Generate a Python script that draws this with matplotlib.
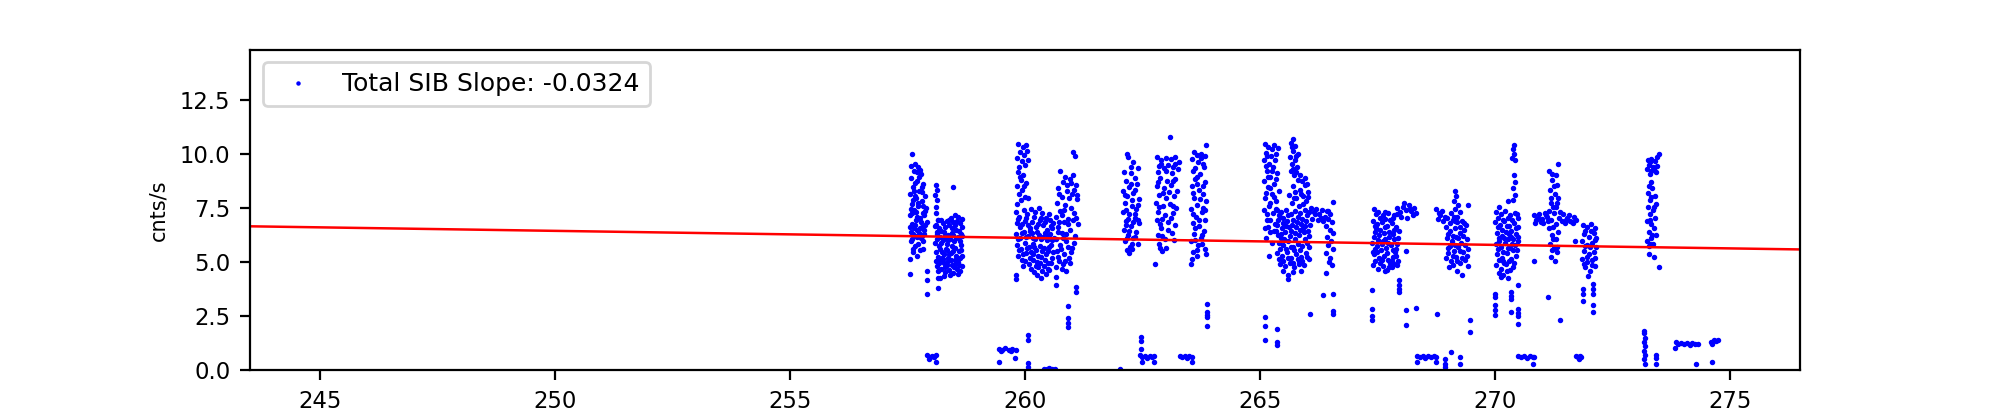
import numpy as np
import matplotlib
matplotlib.use("Agg")
import matplotlib.pyplot as plt

# ---- data: (time [day], rate [cnts/s]) ----
seg_257_258 = [
    (257.60, 9.98), (257.66, 9.55), (257.72, 9.40), (257.63, 9.20), (257.78, 9.05), (257.58, 8.90),
    (257.70, 8.75), (257.84, 8.60), (257.62, 8.45), (257.75, 8.30), (257.56, 8.15), (257.88, 8.05),
    (257.68, 7.95), (257.80, 7.80), (257.59, 7.70), (257.72, 7.60), (257.90, 7.50), (257.64, 7.40),
    (257.83, 7.28), (257.55, 7.15), (257.76, 7.05), (257.68, 6.95), (257.92, 6.85), (257.60, 6.75),
    (257.80, 6.62), (257.70, 6.50), (257.57, 6.40), (257.86, 6.30), (257.65, 6.20), (257.78, 6.10),
    (257.58, 5.95), (257.73, 5.85), (257.82, 5.60), (257.62, 5.45), (257.70, 5.30), (257.55, 5.15),
    (257.56, 4.45), (257.91, 4.60), (257.91, 4.15), (257.91, 3.50),
    (257.66, 8.05), (257.74, 8.95), (257.61, 7.85), (257.85, 7.15), (257.69, 7.30), (257.79, 6.85),
    (257.63, 6.55), (257.88, 6.70), (257.74, 6.35), (257.59, 6.05), (257.84, 5.95), (257.67, 5.75),
    (257.77, 9.25), (257.65, 8.65), (257.81, 8.25), (257.57, 7.45), (257.87, 7.35), (257.71, 7.10),
    (257.61, 6.30), (257.76, 5.55),
    (257.58, 9.45), (257.70, 9.15), (257.64, 8.30), (257.80, 8.45), (257.73, 7.75), (257.60, 7.25),
    (257.83, 7.60), (257.66, 6.70), (257.76, 6.55), (257.86, 6.50), (257.70, 6.15), (257.62, 5.60),
    (257.80, 6.20), (257.56, 6.60),
    (258.10, 8.55), (258.12, 8.35), (258.09, 8.10), (258.13, 7.85), (258.11, 7.55), (258.10, 7.25),
    (258.14, 6.95), (258.09, 6.65), (258.12, 6.40), (258.47, 8.45),
    (258.10, 6.70), (258.18, 6.55), (258.26, 6.80), (258.34, 6.90), (258.42, 7.05), (258.50, 7.15),
    (258.58, 7.10), (258.65, 7.00), (258.12, 6.30), (258.20, 6.15), (258.28, 6.40), (258.36, 6.25),
    (258.44, 6.55), (258.52, 6.70), (258.60, 6.45), (258.67, 6.60), (258.09, 5.90), (258.17, 5.75),
    (258.25, 6.00), (258.33, 5.85), (258.41, 6.05), (258.49, 5.95), (258.57, 6.15), (258.64, 5.80),
    (258.11, 5.45), (258.19, 5.60), (258.27, 5.35), (258.35, 5.55), (258.43, 5.40), (258.51, 5.65),
    (258.59, 5.50), (258.66, 5.30), (258.10, 5.05), (258.18, 4.95), (258.26, 5.15), (258.34, 4.85),
    (258.42, 5.10), (258.50, 4.90), (258.58, 5.00), (258.65, 4.80), (258.14, 4.60), (258.22, 4.70),
    (258.30, 4.55), (258.38, 4.65), (258.46, 4.50), (258.55, 4.70), (258.62, 4.60), (258.15, 4.25),
    (258.20, 4.25), (258.15, 3.80), (258.27, 4.35), (258.22, 6.95), (258.39, 6.70), (258.55, 6.90),
    (258.31, 6.10), (258.47, 6.25), (258.63, 6.30), (258.24, 5.20), (258.45, 5.75), (258.61, 5.20),
    (258.37, 5.20), (258.53, 5.30), (258.29, 4.75), (258.48, 4.75),
    (258.14, 6.92), (258.22, 6.42), (258.30, 6.62), (258.38, 6.95), (258.46, 6.85), (258.54, 6.50),
    (258.62, 6.80), (258.13, 6.05), (258.21, 5.88), (258.29, 6.22), (258.37, 6.02), (258.45, 6.35),
    (258.53, 6.10), (258.61, 5.95), (258.66, 6.20), (258.15, 5.25), (258.23, 5.45), (258.31, 5.60),
    (258.39, 5.35), (258.47, 5.50), (258.55, 5.15), (258.63, 5.55), (258.12, 4.80), (258.20, 5.05),
    (258.28, 4.95), (258.36, 5.05), (258.44, 4.85), (258.52, 5.10), (258.60, 4.85), (258.40, 4.40),
    (258.58, 4.45),
]

seg_260_261 = [
    (259.86, 10.45), (259.95, 10.30), (260.02, 10.40), (259.90, 10.10), (259.98, 9.95), (260.05, 10.15),
    (259.84, 9.80), (259.93, 9.65), (260.01, 9.50), (259.88, 9.40), (260.06, 9.70), (259.85, 9.15),
    (259.96, 9.00), (259.91, 8.80), (260.03, 8.65), (259.83, 8.50), (259.94, 8.35), (259.87, 8.15),
    (260.00, 8.00), (259.92, 7.85), (259.84, 7.70), (260.07, 7.95), (259.97, 8.50), (259.89, 8.95),
    (259.80, 7.30), (259.88, 7.10), (259.97, 7.40), (260.05, 7.20), (260.13, 7.45), (260.21, 7.30),
    (260.29, 7.50), (260.37, 7.25), (260.45, 7.05), (260.53, 6.95), (260.60, 6.80),
    (259.82, 6.80), (259.90, 6.60), (259.99, 6.90), (260.07, 6.70), (260.15, 6.85), (260.23, 6.60),
    (260.31, 6.95), (260.39, 6.70), (260.47, 6.50), (260.55, 6.65),
    (259.81, 6.30), (259.89, 6.10), (259.98, 6.40), (260.06, 6.20), (260.14, 6.35), (260.22, 6.05),
    (260.30, 6.25), (260.38, 6.15), (260.46, 6.00), (260.54, 6.30), (260.61, 6.10),
    (259.83, 5.80), (259.91, 5.60), (260.00, 5.90), (260.08, 5.70), (260.16, 5.85), (260.24, 5.55),
    (260.32, 5.75), (260.40, 5.65), (260.48, 5.50), (260.56, 5.80),
    (259.85, 5.30), (259.94, 5.10), (260.02, 5.40), (260.10, 5.20), (260.18, 5.35), (260.26, 5.00),
    (260.34, 5.25), (260.42, 5.10), (260.50, 4.95), (260.58, 5.20),
    (259.95, 4.80), (260.12, 4.70), (260.20, 4.55), (260.28, 4.75), (260.36, 4.60), (260.44, 4.45),
    (260.52, 4.65), (260.35, 4.25), (259.80, 4.40), (259.80, 4.20),
    (259.86, 7.00), (259.94, 6.75), (260.03, 7.05), (260.11, 6.55), (260.19, 7.10), (260.27, 6.75),
    (260.35, 7.05), (260.43, 6.85), (260.51, 7.20), (260.58, 6.55), (259.85, 6.05), (259.93, 6.35),
    (260.02, 6.15), (260.10, 6.45), (260.18, 6.10), (260.26, 6.40), (260.34, 6.05), (260.42, 6.35),
    (260.50, 6.20), (260.58, 6.00), (259.87, 5.55), (259.96, 5.35), (260.04, 5.65), (260.12, 5.45),
    (260.20, 5.70), (260.28, 5.30), (260.36, 5.50), (260.44, 5.35), (260.52, 5.70), (260.60, 5.45),
    (260.00, 5.05), (260.08, 4.90), (260.16, 5.10), (260.24, 4.80), (260.32, 4.95), (260.40, 4.80),
    (260.48, 4.70), (260.56, 4.95), (260.25, 4.40),
    (261.03, 10.10), (261.06, 9.90), (260.75, 9.20), (261.02, 9.00), (260.95, 8.85), (260.80, 8.70),
    (261.08, 8.55), (260.70, 8.40), (260.90, 8.30), (261.00, 8.15), (260.78, 8.00), (261.10, 7.90),
    (260.68, 7.75), (260.86, 7.65), (260.98, 7.50), (260.74, 7.35), (261.05, 7.25), (260.66, 7.10),
    (260.92, 7.00), (260.82, 6.85), (261.12, 6.75), (260.70, 6.60), (260.96, 6.50), (260.78, 6.35),
    (261.06, 6.20), (260.67, 6.05), (260.88, 5.95), (260.75, 5.80), (261.00, 5.65), (260.69, 5.50),
    (260.84, 5.35), (260.93, 5.20), (260.72, 5.05), (260.80, 4.90), (260.66, 4.75), (260.88, 4.60),
    (260.65, 4.30), (260.66, 3.95), (261.09, 3.84), (261.09, 3.60), (260.92, 2.96), (260.92, 2.40),
    (260.92, 2.20), (260.92, 2.02),
    (260.85, 8.95), (260.93, 7.95), (260.79, 7.15), (261.03, 6.95), (260.87, 6.30), (260.76, 5.60),
    (260.97, 5.45), (260.86, 5.05), (261.04, 8.35), (260.73, 6.85),
    (260.72, 8.15), (260.98, 8.65), (260.84, 7.40), (261.08, 7.05), (260.70, 6.40), (260.92, 6.75),
    (260.80, 6.10), (261.04, 5.90), (260.70, 5.25), (260.92, 5.70), (260.78, 4.70), (260.95, 4.95),
    (260.89, 8.55), (261.10, 8.10),
]

seg_262_264 = [
    (262.17, 10.00), (262.20, 9.85), (262.30, 9.60), (262.40, 9.35), (262.10, 9.15), (262.25, 9.10),
    (262.33, 8.90), (262.14, 8.75), (262.38, 8.60), (262.22, 8.45), (262.09, 8.30), (262.30, 8.20),
    (262.18, 8.05), (262.42, 7.90), (262.12, 7.75), (262.27, 7.60), (262.36, 7.45), (262.08, 7.30),
    (262.21, 7.20), (262.33, 7.05), (262.15, 6.90), (262.43, 6.80), (262.25, 6.65), (262.10, 6.50),
    (262.37, 6.40), (262.19, 6.25), (262.30, 6.10), (262.12, 5.95), (262.40, 5.85), (262.23, 5.70),
    (262.16, 5.55), (262.28, 5.60), (262.22, 5.40), (262.35, 7.20), (262.14, 7.40), (262.26, 8.60),
    (262.40, 6.95), (262.18, 6.10),
    (262.25, 9.40), (262.35, 8.35), (262.12, 8.10), (262.28, 7.85), (262.20, 7.00), (262.30, 6.85),
    (262.22, 6.45), (262.35, 6.15), (262.14, 6.70), (262.28, 5.85), (262.40, 7.65),
    (263.08, 10.78), (262.80, 9.85), (262.90, 9.70), (263.00, 9.80), (263.10, 9.75), (263.20, 9.85),
    (263.27, 9.60), (262.85, 9.45), (262.95, 9.35), (263.05, 9.50), (263.15, 9.40), (263.25, 9.30),
    (262.82, 9.15), (263.12, 9.10), (262.88, 8.90), (263.02, 8.75), (263.20, 8.85), (262.80, 8.50),
    (262.95, 8.40), (263.10, 8.55), (263.24, 8.30), (262.86, 8.10), (263.00, 7.95), (263.17, 8.05),
    (262.79, 7.75), (262.93, 7.60), (263.08, 7.70), (263.22, 7.50), (262.84, 7.30), (262.98, 7.15),
    (263.14, 7.25), (262.80, 6.95), (263.04, 6.85), (263.20, 6.70), (262.90, 6.55), (262.83, 6.25),
    (263.12, 6.35), (262.97, 6.05), (262.85, 5.85), (263.00, 5.65), (262.92, 5.50), (262.77, 4.90),
    (263.18, 6.00),
    (262.90, 9.55), (263.20, 9.55), (263.00, 9.20), (262.84, 8.70), (263.14, 8.75), (262.93, 8.20),
    (263.06, 8.25), (262.85, 7.55), (263.15, 7.60), (262.92, 7.00), (263.10, 7.05), (262.88, 6.75),
    (263.05, 6.50), (262.92, 6.20), (262.87, 5.65),
    (263.85, 10.40), (263.60, 10.10), (263.75, 10.00), (263.82, 9.90), (263.55, 9.75), (263.68, 9.60),
    (263.80, 9.40), (263.58, 9.20), (263.72, 9.05), (263.62, 8.85), (263.84, 8.70), (263.55, 8.50),
    (263.70, 8.35), (263.78, 8.15), (263.60, 7.95), (263.86, 7.80), (263.66, 7.65), (263.54, 7.45),
    (263.76, 7.30), (263.63, 7.10), (263.83, 6.95), (263.57, 6.80), (263.70, 6.65), (263.80, 6.45),
    (263.60, 6.30), (263.74, 6.10), (263.53, 5.95), (263.68, 5.80), (263.82, 5.60), (263.58, 5.45),
    (263.65, 5.30), (263.55, 5.15), (263.53, 4.90), (263.85, 5.35), (263.66, 8.60), (263.79, 7.50),
    (263.62, 6.00), (263.74, 9.80),
    (263.65, 9.95), (263.78, 9.55), (263.62, 9.35), (263.67, 8.95), (263.78, 8.50), (263.58, 8.20),
    (263.72, 7.90), (263.82, 7.40), (263.58, 7.20), (263.70, 6.95), (263.62, 6.55), (263.77, 6.25),
    (263.66, 5.55), (263.76, 5.85),
    (263.88, 3.07), (263.88, 2.70), (263.88, 2.55), (263.88, 2.45), (263.88, 2.06),
]

seg_265_266 = [
    (265.10, 10.45), (265.18, 10.30), (265.30, 10.40), (265.38, 10.25), (265.12, 10.05), (265.24, 9.90),
    (265.34, 10.00), (265.08, 9.70), (265.20, 9.55), (265.28, 9.40), (265.14, 9.20), (265.36, 9.10),
    (265.22, 8.95), (265.09, 8.75), (265.30, 8.60), (265.16, 8.45), (265.40, 8.30), (265.25, 8.15),
    (265.11, 7.95), (265.34, 7.80), (265.19, 7.60), (265.08, 7.40), (265.28, 7.25), (265.42, 7.10),
    (265.15, 6.95), (265.32, 6.75), (265.10, 6.55), (265.22, 6.40), (265.38, 6.25), (265.13, 6.10),
    (265.26, 5.90), (265.20, 5.30),
    (265.26, 10.20), (265.15, 9.90), (265.32, 9.70), (265.12, 9.45), (265.26, 9.20), (265.16, 8.95),
    (265.34, 8.85), (265.22, 8.40), (265.12, 8.20), (265.30, 8.00), (265.22, 7.75), (265.15, 7.20),
    (265.36, 7.40), (265.22, 6.95), (265.18, 6.60), (265.30, 6.45),
    (265.35, 7.45), (265.45, 7.30), (265.55, 7.40), (265.65, 7.20), (265.75, 7.35), (265.85, 7.25),
    (265.95, 7.40), (266.05, 7.30), (265.38, 6.95), (265.48, 6.80), (265.58, 6.90), (265.68, 6.70),
    (265.78, 6.85), (265.88, 6.75), (265.98, 6.90), (266.06, 6.70), (265.34, 6.45), (265.44, 6.30),
    (265.54, 6.40), (265.64, 6.20), (265.74, 6.35), (265.84, 6.25), (265.94, 6.40), (266.04, 6.20),
    (265.40, 5.90), (265.50, 5.80), (265.60, 5.95), (265.70, 5.70), (265.80, 5.85), (265.90, 5.75),
    (266.00, 5.90), (265.37, 5.40), (265.47, 5.30), (265.57, 5.45), (265.67, 5.20), (265.77, 5.35),
    (265.87, 5.25), (265.97, 5.40), (266.05, 5.15), (265.43, 4.90), (265.53, 4.80), (265.63, 4.95),
    (265.73, 4.75), (265.83, 4.90), (265.93, 4.85), (265.60, 4.40), (265.60, 4.20), (265.52, 6.05),
    (265.72, 5.55), (265.92, 6.55), (265.82, 5.05), (265.62, 6.60), (265.42, 5.60),
    (265.40, 7.15), (265.50, 7.05), (265.60, 7.15), (265.70, 6.95), (265.80, 7.10), (265.90, 7.00),
    (266.00, 7.15), (265.36, 6.70), (265.46, 6.55), (265.56, 6.65), (265.66, 6.45), (265.76, 6.60),
    (265.86, 6.50), (265.96, 6.65), (266.03, 6.45), (265.45, 6.10), (265.55, 5.60), (265.65, 5.70),
    (265.75, 6.05), (265.85, 5.55), (265.95, 6.05), (266.04, 5.70), (265.40, 5.15), (265.50, 5.05),
    (265.60, 5.20), (265.70, 4.95), (265.80, 5.15), (265.90, 5.05), (266.00, 5.25), (265.48, 4.60),
    (265.70, 4.55), (265.88, 4.60),
    (265.71, 10.70), (265.66, 10.50), (265.75, 10.35), (265.70, 10.15), (265.80, 10.00), (265.64, 9.85),
    (265.74, 9.70), (265.68, 9.55), (265.78, 9.40), (265.65, 9.20), (265.72, 9.00), (265.80, 8.80),
    (265.90, 8.75), (266.00, 8.60), (265.95, 8.90), (265.70, 8.50), (265.85, 8.35), (266.03, 8.25),
    (265.62, 8.10), (265.77, 7.95), (265.92, 8.05), (265.68, 7.75), (265.84, 7.60), (265.98, 7.80),
    (265.68, 10.30), (265.77, 9.90), (265.71, 9.30), (265.76, 9.15), (265.85, 9.00), (265.95, 8.55),
    (265.75, 8.25), (265.88, 8.15), (265.72, 7.95), (265.92, 7.70), (266.02, 8.00),
    (265.10, 2.48), (265.10, 2.05), (265.10, 1.40), (265.37, 1.90), (265.37, 1.30), (265.37, 1.15),
    (266.06, 2.60),
    (266.08, 7.50), (266.14, 7.30), (266.20, 7.45), (266.26, 7.20), (266.32, 7.40), (266.38, 7.10),
    (266.44, 7.35), (266.11, 7.00), (266.23, 6.95), (266.35, 6.90), (266.17, 7.20), (266.29, 7.05),
    (266.56, 7.77), (266.42, 7.35), (266.50, 7.20), (266.44, 7.00), (266.54, 6.85), (266.40, 6.65),
    (266.48, 6.50), (266.56, 6.35), (266.42, 6.15), (266.52, 5.95), (266.45, 5.80), (266.55, 5.60),
    (266.41, 5.40), (266.50, 5.20), (266.46, 5.00), (266.53, 4.85), (266.40, 4.50), (266.35, 3.48),
    (266.56, 3.50), (266.56, 2.75), (266.56, 2.62),
]

seg_267_269 = [
    (267.42, 7.45), (267.52, 7.30), (267.62, 7.15), (267.72, 7.25), (267.82, 7.05), (267.92, 7.20),
    (267.40, 6.90), (267.50, 6.75), (267.60, 6.85), (267.70, 6.65), (267.80, 6.80), (267.90, 6.60),
    (267.44, 6.40), (267.54, 6.25), (267.64, 6.35), (267.74, 6.15), (267.84, 6.30), (267.94, 6.10),
    (267.39, 5.90), (267.49, 5.75), (267.59, 5.85), (267.69, 5.65), (267.79, 5.80), (267.89, 5.60),
    (267.43, 5.35), (267.53, 5.20), (267.63, 5.30), (267.73, 5.10), (267.83, 5.25), (267.93, 5.05),
    (267.41, 4.85), (267.51, 4.70), (267.61, 4.80), (267.71, 4.65), (267.81, 4.75), (267.91, 4.85),
    (267.47, 6.55), (267.67, 6.05), (267.87, 5.45), (267.57, 5.55), (267.77, 4.95), (267.45, 5.60),
    (267.85, 6.50), (267.65, 7.00),
    (267.46, 7.20), (267.56, 7.05), (267.66, 7.30), (267.76, 6.95), (267.86, 7.15), (267.45, 6.65),
    (267.55, 6.50), (267.65, 6.60), (267.75, 6.40), (267.85, 6.05), (267.95, 6.45), (267.42, 6.15),
    (267.52, 6.00), (267.62, 5.95), (267.72, 5.90), (267.82, 5.55), (267.92, 5.85), (267.40, 5.45),
    (267.50, 5.45), (267.60, 5.10), (267.70, 5.40), (267.80, 5.05), (267.90, 5.30), (267.45, 5.05),
    (267.55, 4.95), (267.65, 4.60), (267.75, 4.75), (267.86, 4.90),
    (267.39, 3.70), (267.39, 2.83), (267.39, 2.50), (267.39, 2.30), (267.95, 4.15), (267.95, 3.95),
    (267.95, 3.75), (267.95, 3.60), (268.11, 5.53), (268.10, 2.78), (268.10, 2.09), (268.33, 2.86),
    (268.76, 2.60),
    (267.92, 7.50), (267.98, 7.30), (268.04, 7.55), (268.10, 7.40), (268.16, 7.65), (268.22, 7.35),
    (268.28, 7.50), (268.33, 7.25), (268.01, 7.10), (268.13, 7.05), (268.25, 7.15), (268.19, 7.45),
    (268.07, 7.75),
    (268.75, 7.45), (268.81, 7.25), (268.87, 7.35), (268.93, 7.10), (268.78, 7.00), (268.90, 6.90),
    (268.84, 7.15),
    (269.15, 8.30), (269.18, 8.05), (269.12, 7.80), (269.22, 7.65), (269.15, 7.45), (269.07, 7.25),
    (269.25, 7.30), (268.98, 7.05), (269.10, 6.95), (269.20, 6.85), (269.30, 6.90), (269.38, 6.70),
    (268.95, 6.60), (269.05, 6.45), (269.15, 6.55), (269.25, 6.35), (269.35, 6.50), (268.97, 6.10),
    (269.08, 5.95), (269.18, 6.15), (269.28, 5.90), (269.40, 6.05), (269.00, 5.65), (269.12, 5.50),
    (269.22, 5.70), (269.32, 5.45), (269.42, 5.60), (268.96, 5.20), (269.06, 5.05), (269.16, 5.25),
    (269.26, 4.95), (269.36, 5.10), (269.02, 4.75), (269.20, 4.60), (269.30, 4.40), (269.43, 4.80),
    (269.43, 7.65), (269.46, 2.30), (269.46, 1.78),
    (269.05, 6.80), (269.15, 6.90), (269.25, 6.60), (269.35, 6.80), (269.00, 6.30), (269.10, 6.20),
    (269.22, 6.10), (269.32, 6.20), (269.05, 5.75), (269.15, 5.80), (269.25, 5.50), (269.37, 5.80),
    (269.01, 5.40), (269.10, 5.30), (269.20, 5.05), (269.30, 5.20), (269.10, 4.85), (269.12, 7.10),
    (269.20, 7.10), (269.40, 5.30),
]

seg_270_274 = [
    (270.03, 7.30), (270.12, 7.20), (270.22, 7.35), (270.32, 7.15), (270.42, 7.25), (270.50, 7.05),
    (270.01, 6.85), (270.10, 6.70), (270.20, 6.90), (270.30, 6.65), (270.40, 6.80), (270.48, 6.60),
    (270.04, 6.35), (270.14, 6.20), (270.24, 6.40), (270.34, 6.15), (270.44, 6.30),
    (270.02, 5.85), (270.12, 5.70), (270.22, 5.90), (270.32, 5.65), (270.42, 5.80), (270.50, 5.95),
    (270.05, 5.35), (270.15, 5.20), (270.25, 5.40), (270.35, 5.15), (270.45, 5.30),
    (270.03, 4.85), (270.13, 4.70), (270.23, 4.90), (270.33, 4.65), (270.18, 4.40), (270.28, 4.25),
    (270.08, 7.55), (270.28, 6.05), (270.38, 5.55), (270.08, 6.10), (270.18, 5.05),
    (270.07, 7.05), (270.17, 6.95), (270.27, 7.05), (270.37, 6.95), (270.46, 7.20), (270.06, 6.60),
    (270.15, 6.50), (270.25, 6.65), (270.35, 6.45), (270.45, 6.55), (270.09, 5.95), (270.19, 6.10),
    (270.29, 6.30), (270.39, 6.05), (270.48, 6.15), (270.07, 5.60), (270.17, 5.45), (270.27, 5.65),
    (270.37, 5.85), (270.47, 5.55), (270.09, 5.10), (270.20, 4.95), (270.30, 5.05), (270.40, 4.95),
    (270.08, 4.50), (270.25, 4.60), (270.38, 4.75), (270.12, 4.30),
    (270.40, 10.40), (270.38, 10.20), (270.41, 10.00), (270.37, 9.80), (270.42, 9.70), (270.40, 9.00),
    (270.42, 8.70), (270.39, 8.40), (270.43, 8.10), (270.38, 7.85), (270.28, 7.80),
    (270.01, 3.50), (270.01, 3.40), (270.01, 3.00), (270.01, 2.80), (270.01, 2.55), (270.35, 3.60),
    (270.35, 3.45), (270.35, 3.30), (270.35, 2.67), (270.49, 3.95), (270.49, 2.83), (270.49, 2.65),
    (270.49, 2.50), (270.49, 2.14),
    (270.82, 7.15), (270.88, 6.95), (270.94, 7.20), (271.00, 7.00), (271.06, 7.25), (271.12, 6.90),
    (271.45, 7.20), (271.51, 6.95), (271.57, 7.15), (271.63, 6.85), (271.69, 7.10), (271.72, 6.95),
    (270.85, 6.80), (271.03, 6.80), (271.48, 6.78), (271.66, 6.80),
    (270.91, 7.05), (270.97, 6.85), (271.09, 7.15), (271.54, 7.05), (271.60, 6.90), (271.42, 6.90),
    (271.34, 9.55), (271.16, 9.20), (271.30, 9.00), (271.22, 8.80), (271.33, 8.55), (271.18, 8.35),
    (271.27, 8.15), (271.35, 7.95), (271.20, 7.75), (271.30, 7.55), (271.15, 7.35), (271.25, 7.25),
    (271.37, 7.05), (271.19, 6.95), (271.29, 6.75), (271.14, 6.55), (271.34, 6.40), (271.22, 6.25),
    (271.30, 6.05), (271.17, 5.85), (271.26, 5.65), (271.33, 5.45), (271.20, 5.25), (271.28, 5.05),
    (271.24, 7.55), (271.38, 7.30), (271.10, 7.10),
    (271.22, 9.05), (271.26, 8.50), (271.20, 7.95), (271.32, 7.75), (271.24, 6.60), (271.21, 5.55),
    (271.31, 5.70), (271.24, 6.05),
    (270.83, 5.07), (271.13, 3.40), (271.38, 2.34), (271.70, 5.95),
    (271.87, 6.70), (271.95, 6.60), (272.05, 6.75), (272.12, 6.55), (271.90, 6.30), (272.00, 6.15),
    (272.10, 6.35), (271.86, 5.95), (271.96, 5.80), (272.06, 5.90), (272.14, 5.70), (271.90, 5.50),
    (272.00, 5.35), (272.10, 5.45), (271.86, 5.15), (271.96, 5.00), (272.06, 5.10), (271.92, 4.75),
    (272.02, 4.60), (272.12, 4.80), (271.98, 4.35), (272.15, 6.10),
    (271.92, 6.45), (272.05, 6.45), (271.91, 5.75), (272.03, 5.70), (272.12, 5.20), (271.95, 5.25),
    (272.06, 4.85), (271.89, 4.90), (272.13, 6.00),
    (271.88, 3.76), (271.88, 3.50), (271.88, 3.20), (272.09, 3.99), (272.09, 3.75), (272.09, 3.50),
    (272.09, 3.00), (272.09, 2.67),
    (273.48, 10.00), (273.45, 9.85), (273.25, 9.70), (273.32, 9.75), (273.40, 9.65), (273.28, 9.50),
    (273.36, 9.40), (273.44, 9.45), (273.24, 9.30), (273.33, 9.20), (273.42, 9.15), (273.30, 9.05),
    (273.28, 8.50), (273.35, 8.40), (273.26, 8.20), (273.40, 8.05), (273.30, 7.85), (273.43, 7.70),
    (273.25, 7.55), (273.36, 7.40), (273.29, 7.20), (273.41, 7.05), (273.24, 6.90), (273.33, 6.75),
    (273.38, 6.55), (273.27, 6.40), (273.42, 6.25), (273.31, 6.10), (273.23, 5.95), (273.36, 5.85),
    (273.28, 5.75), (273.27, 5.38), (273.39, 5.23), (273.48, 4.76),
    (273.29, 9.60), (273.38, 9.30), (273.31, 8.70), (273.33, 8.00), (273.38, 7.55), (273.30, 6.95),
    (273.35, 6.25), (273.30, 5.85),
]

low_rate = [
    (257.92, 0.70), (257.97, 0.60), (258.02, 0.68), (258.07, 0.62), (258.11, 0.72), (257.95, 0.50),
    (258.10, 0.40),
    (259.45, 1.00), (259.52, 0.95), (259.58, 1.02), (259.65, 0.94), (259.72, 0.98), (259.80, 0.92),
    (259.48, 0.90), (259.70, 0.88), (259.45, 0.40), (259.79, 0.57),
    (260.07, 1.62), (260.07, 1.40), (260.07, 0.35), (260.07, 0.15),
    (260.40, 0.08), (260.46, 0.05), (260.52, 0.10), (260.58, 0.06), (260.64, 0.08), (262.02, 0.05),
    (262.45, 0.70), (262.50, 0.60), (262.55, 0.68), (262.60, 0.58), (262.65, 0.66), (262.70, 0.60),
    (262.75, 0.64), (262.47, 1.55), (262.47, 1.35), (262.47, 1.00), (262.48, 0.36), (262.75, 0.36),
    (263.30, 0.68), (263.35, 0.60), (263.40, 0.66), (263.45, 0.58), (263.50, 0.64), (263.55, 0.62),
    (263.55, 0.36),
    (268.34, 0.66), (268.40, 0.60), (268.46, 0.68), (268.52, 0.58), (268.58, 0.64), (268.64, 0.60),
    (268.70, 0.66), (268.75, 0.62), (268.35, 0.36), (268.74, 0.36),
    (268.93, 0.50), (268.93, 0.30), (268.93, 0.13), (269.07, 0.83), (269.25, 0.60), (269.25, 0.30),
    (270.50, 0.68), (270.56, 0.60), (270.62, 0.66), (270.68, 0.58), (270.74, 0.64), (270.80, 0.60),
    (270.84, 0.62), (270.81, 0.28),
    (271.72, 0.68), (271.76, 0.60), (271.80, 0.66), (271.84, 0.62), (271.78, 0.54),
    (273.18, 1.83), (273.18, 1.70), (273.19, 1.50), (273.18, 1.30), (273.19, 1.10), (273.18, 0.90),
    (273.19, 0.70), (273.18, 0.50), (273.19, 0.30), (273.43, 0.72), (273.43, 0.55), (273.43, 0.30),
    (273.85, 1.30), (273.90, 1.22), (273.96, 1.28), (274.02, 1.20), (274.08, 1.26), (274.14, 1.18),
    (274.20, 1.24), (274.26, 1.20), (274.32, 1.22), (273.84, 1.03), (274.28, 0.30),
    (274.60, 1.30), (274.65, 1.38), (274.70, 1.33), (274.75, 1.40), (274.62, 1.22), (274.61, 0.40),
]

fit_slope = -0.0324
fit_intercept = 14.54
legend_label = "Total SIB Slope: -0.0324"
y_label = "cnts/s"
x_limits = (243.51, 276.49)
y_limits = (0.0, 14.8)

# ---- plot ----
pts = np.array(seg_257_258 + seg_260_261 + seg_262_264 + seg_265_266
               + seg_267_269 + seg_270_274 + low_rate)
t, rate = pts[:, 0], pts[:, 1]

fig, ax = plt.subplots(figsize=(10, 2.08), dpi=200)
fig.subplots_adjust(left=0.125, right=0.9, top=0.88, bottom=0.11)

ax.plot(t, rate, linestyle="none", marker=".", color="blue",
        markersize=2.3, markeredgewidth=0.8, label=legend_label)
ax.axline((0.0, fit_intercept), slope=fit_slope, color="red", linewidth=0.9)

ax.set_xlim(*x_limits)
ax.set_ylim(*y_limits)
ax.set_yticks([0, 2.5, 5, 7.5, 10, 12.5])
ax.set_xticks([245, 250, 255, 260, 265, 270, 275])
ax.tick_params(labelsize=8.2)
ax.set_ylabel(y_label, fontsize=7.5)
ax.legend(loc="upper left", fontsize=9, markerscale=0.7)

fig.savefig("out.png", dpi=200)
